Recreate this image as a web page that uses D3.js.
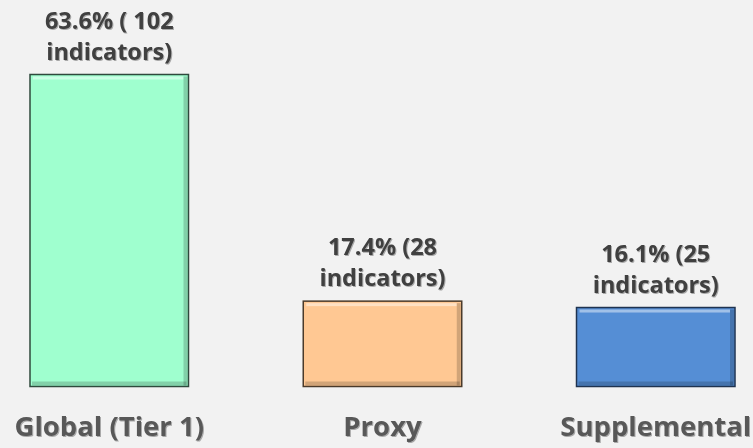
<!DOCTYPE html>
<html><head><meta charset="utf-8">
<script src="https://cdn.jsdelivr.net/npm/d3@7"></script>
<style>html,body{margin:0;padding:0;background:#f2f2f2;}svg{display:block;}</style>
</head><body>
<script>
const categories = ["Global (Tier 1)", "Proxy", "Supplemental"];
const values = [63.6, 17.4, 16.1];
const counts = ["( 102", "(28", "(25"];
const colors = ["#9fffcf", "#ffc893", "#558ed5"];
const edgeColors = ["#2f4a3d", "#4a3a2a", "#1f3350"];

const W = 753, H = 448;
const svg = d3.select("body").append("svg").attr("width", W).attr("height", H);
svg.append("rect").attr("width", W).attr("height", H).attr("fill", "#f2f2f2");

const defs = svg.append("defs");
const f = defs.append("filter").attr("id", "ts").attr("x", "-10%").attr("y", "-10%").attr("width", "120%").attr("height", "130%");
f.append("feDropShadow").attr("dx", 1).attr("dy", 1).attr("stdDeviation", 0.7).attr("flood-color", "#000").attr("flood-opacity", 0.3);

const x = d3.scaleBand().domain(categories).range([30, 735]).paddingInner(0.42).paddingOuter(0);
const y = d3.scaleLinear().domain([0, 63.6]).range([386.5, 74.5]);

const g = svg.append("g");
const bars = g.selectAll("g.bar").data(categories).join("g").attr("class", "bar");
bars.append("rect")
  .attr("x", d => x(d)).attr("y", (d, i) => y(values[i]))
  .attr("width", x.bandwidth()).attr("height", (d, i) => y(0) - y(values[i]))
  .attr("fill", (d, i) => colors[i])
  .attr("stroke", (d, i) => edgeColors[i]).attr("stroke-width", 1.5);
// bevel highlights
bars.append("rect")
  .attr("x", d => x(d) + 3).attr("y", (d, i) => y(values[i]) + 2)
  .attr("width", x.bandwidth() - 8).attr("height", 3)
  .attr("fill", "#fff").attr("opacity", 0.45);
bars.append("rect")
  .attr("x", d => x(d) + x.bandwidth() - 5).attr("y", (d, i) => y(values[i]) + 2)
  .attr("width", 4).attr("height", (d, i) => y(0) - y(values[i]) - 3)
  .attr("fill", "#000").attr("opacity", 0.18);
bars.append("rect")
  .attr("x", d => x(d) + 2).attr("y", (d, i) => y(0) - 5)
  .attr("width", x.bandwidth() - 4).attr("height", 4)
  .attr("fill", "#000").attr("opacity", 0.18);

const lab = g.selectAll("text.val").data(categories).join("text").attr("class", "val")
  .attr("x", d => x(d) + x.bandwidth() / 2)
  .attr("text-anchor", "middle")
  .attr("font-family", "'Open Sans', Lato, sans-serif")
  .attr("font-weight", "bold").attr("font-size", 23.5)
  .attr("fill", "#404040").attr("filter", "url(#ts)");
lab.append("tspan").attr("x", d => x(d) + x.bandwidth() / 2)
  .attr("y", (d, i) => y(values[i]) - 46)
  .text((d, i) => values[i].toFixed(1) + "% " + counts[i]);
lab.append("tspan").attr("x", d => x(d) + x.bandwidth() / 2)
  .attr("y", (d, i) => y(values[i]) - 15)
  .text("indicators)");

const xAxis = d3.axisBottom(x).tickSize(0).tickPadding(0);
const ax = svg.append("g").attr("transform", "translate(0,386.5)").call(xAxis);
ax.select(".domain").remove();
ax.selectAll("text")
  .attr("y", 49.5).attr("dy", 0)
  .attr("font-family", "'Open Sans', Lato, sans-serif")
  .attr("font-weight", "bold").attr("font-size", 27.5)
  .attr("fill", "#595959").attr("filter", "url(#ts)");
</script>
</body></html>
